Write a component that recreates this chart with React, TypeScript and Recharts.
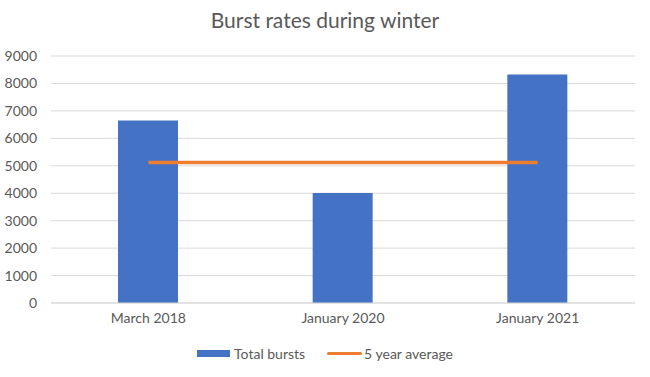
import { Bar, CartesianGrid, ComposedChart, Line, XAxis, YAxis } from "recharts";

const categories = ["March 2018", "January 2020", "January 2021"];
const totalBursts = [6650, 4010, 8330];
const fiveYearAverage = [5120, 5120, 5120];
const yTicks = [0, 1000, 2000, 3000, 4000, 5000, 6000, 7000, 8000, 9000];

const FONT = "Lato, 'Open Sans', sans-serif";
const TEXT = "#595959";

const rows = categories.map((name, i) => ({
  name,
  total: totalBursts[i],
  avg: fiveYearAverage[i]
}));

export default function App() {
  return (
    <div style={{ position: "absolute", left: 0, top: 0, width: 650, height: 377, background: "#fff", fontFamily: FONT }}>
      <div
        style={{
          position: "absolute",
          top: 7,
          width: 650,
          textAlign: "center",
          fontSize: 21,
          color: TEXT
        }}
      >
        Burst rates during winter
      </div>
      <ComposedChart width={650} height={377} data={rows} margin={{ top: 56, right: 15, left: 0, bottom: 44 }}>
        <CartesianGrid vertical={false} stroke="#d9d9d9" />
        <XAxis
          dataKey="name"
          height={30}
          tickLine={false}
          axisLine={{ stroke: "#d9d9d9" }}
          tick={{ fill: TEXT, fontSize: 14, fontFamily: FONT }}
          tickMargin={4}
        />
        <YAxis
          width={51}
          domain={[0, 9000]}
          ticks={yTicks}
          axisLine={false}
          tickLine={false}
          tick={{ fill: TEXT, fontSize: 14, fontFamily: FONT }}
          tickMargin={8}
        />
        <Bar dataKey="total" fill="#4472c4" barSize={60} isAnimationActive={false} />
        <Line dataKey="avg" stroke="#ed7d31" strokeWidth={3.5} dot={false} isAnimationActive={false} />
      </ComposedChart>
      <div
        style={{
          position: "absolute",
          top: 345,
          left: 0,
          width: 650,
          display: "flex",
          justifyContent: "center",
          alignItems: "center",
          fontSize: 14,
          color: TEXT
        }}
      >
        <span style={{ display: "inline-block", width: 33, height: 7, background: "#4472c4", marginRight: 4 }} />
        <span style={{ marginRight: 22 }}>Total bursts</span>
        <span style={{ display: "inline-block", width: 35, height: 3, background: "#ed7d31", borderRadius: 2, marginRight: 2 }} />
        <span>5 year average</span>
      </div>
    </div>
  );
}
